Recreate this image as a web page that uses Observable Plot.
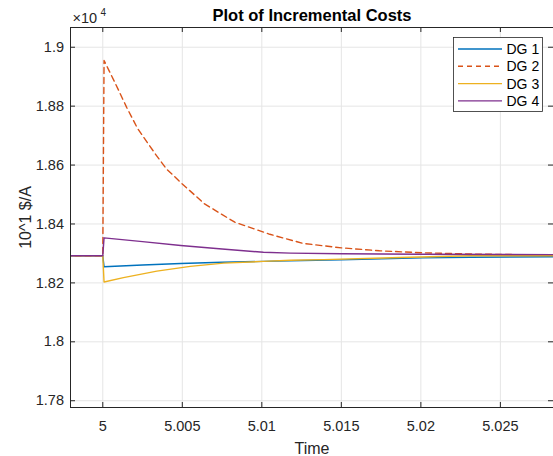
<!DOCTYPE html>
<html><head><meta charset="utf-8">
<script src="https://cdn.jsdelivr.net/npm/d3@7"></script>
<script src="https://cdn.jsdelivr.net/npm/@observablehq/plot@0.6"></script>
<style>body{margin:0;background:#fff}</style>
</head><body><div id="chart"></div>
<script>
const seriesNames = ["DG 1", "DG 2", "DG 3", "DG 4"];
const seriesColors = ["#0072BD", "#D95319", "#EDB120", "#7E2F8E"];

const dg1Time  = [4.997, 5.0, 5.00008, 5.0025, 5.0049, 5.0075, 5.0101, 5.0118, 5.0150, 5.0201, 5.0231, 5.0284];
const dg1Value = [18292, 18292, 18255, 18261, 18266, 18270, 18273, 18275, 18278, 18285, 18287, 18289];

const dg2Time  = [4.997, 5.0, 5.00008, 5.0008, 5.0015, 5.0022, 5.0033, 5.0040, 5.0050, 5.0064, 5.0083, 5.0105, 5.0126, 5.0150, 5.0174, 5.0201, 5.0231, 5.0260, 5.0284];
const dg2Value = [18292, 18292, 18955, 18876, 18796, 18723, 18638, 18587, 18536, 18468, 18406, 18365, 18334, 18319, 18309, 18302, 18298, 18296, 18295];

const dg3Time  = [4.997, 5.0, 5.00008, 5.0013, 5.0034, 5.0055, 5.0076, 5.0101, 5.0118, 5.0139, 5.0187, 5.0231, 5.0284];
const dg3Value = [18292, 18292, 18203, 18218, 18240, 18256, 18267, 18273, 18277, 18279, 18286, 18292, 18292];

const dg4Time  = [4.997, 5.0, 5.00008, 5.0025, 5.0049, 5.0075, 5.0101, 5.0118, 5.0150, 5.0200, 5.0284];
const dg4Value = [18292, 18292, 18353, 18340, 18327, 18315, 18304, 18301, 18299, 18297, 18296];

const xTicks = [5, 5.005, 5.01, 5.015, 5.02, 5.025];
const xTickLabels = ["5", "5.005", "5.01", "5.015", "5.02", "5.025"];
const yTicks = [17800, 18000, 18200, 18400, 18600, 18800, 19000];
const yTickLabels = ["1.78", "1.8", "1.82", "1.84", "1.86", "1.88", "1.9"];

const titleText = "Plot of Incremental Costs";
const xLabel = "Time";
const yLabel = "10^1 $/A";

const seriesTimes = [dg1Time, dg2Time, dg3Time, dg4Time];
const seriesValues = [dg1Value, dg2Value, dg3Value, dg4Value];
const seriesData = seriesNames.map((name, k) =>
  seriesTimes[k].map((t, i) => ({series: name, t, v: seriesValues[k][i]})));

const W = 553, H = 456, mt = 27, mb = 49, ml = 70, mr = 0;
const ph = H - mt - mb, pw = W - ml - mr;
const font = "'Liberation Sans', Arial, Helvetica, sans-serif";
const ink = "#262626";
const tickLen = 5;

const lineMarks = seriesData.map((d, k) => Plot.line(d, {
  x: "t", y: "v", stroke: seriesColors[k], strokeWidth: 1.4,
  strokeDasharray: k === 1 ? "6,4" : null, clip: true
}));

const chart = Plot.plot({
  width: W, height: H,
  marginTop: mt, marginBottom: mb, marginLeft: ml, marginRight: mr,
  style: {fontFamily: font, background: "#fff", color: ink, fontSize: "14.5px", overflow: "visible"},
  x: {domain: [4.99797, 5.02834]},
  y: {domain: [17777, 19067]},
  marks: [
    Plot.gridX(xTicks, {stroke: "#e5e5e5", strokeOpacity: 1}),
    Plot.gridY(yTicks, {stroke: "#e5e5e5", strokeOpacity: 1}),
    ...lineMarks,
    Plot.tickX(xTicks, {x: d => d, insetTop: ph - tickLen, stroke: ink}),
    Plot.tickX(xTicks, {x: d => d, insetBottom: ph - tickLen, stroke: ink}),
    Plot.tickY(yTicks, {y: d => d, insetRight: pw - tickLen, stroke: ink}),
    Plot.tickY(yTicks, {y: d => d, insetLeft: pw - tickLen, stroke: ink}),
    Plot.frame({stroke: ink, strokeWidth: 1}),
    Plot.axisX(xTicks, {tickFormat: d => xTickLabels[xTicks.indexOf(d)], tickSize: 0, tickPadding: 13.5, label: null, fontSize: 14.5, fill: ink}),
    Plot.axisY(yTicks, {tickFormat: d => yTickLabels[yTicks.indexOf(d)], tickSize: 0, tickPadding: 6.5, label: null, fontSize: 14.5, fill: ink}),
    Plot.text([titleText], {frameAnchor: "top", textAnchor: "middle", lineAnchor: "bottom", dy: -7, fontSize: 16.5, fontWeight: "bold", fill: "#000"}),
    Plot.text([xLabel], {frameAnchor: "bottom", textAnchor: "middle", lineAnchor: "top", dy: 35.5, fontSize: 16, fill: ink}),
    Plot.text([yLabel], {frameAnchor: "left", textAnchor: "middle", lineAnchor: "middle", rotate: -90, dx: -45, fontSize: 16, fill: ink}),
    Plot.text(["×10"], {frameAnchor: "top-left", textAnchor: "start", lineAnchor: "bottom", dx: 2, dy: -5, fontSize: 14.5, fill: ink}),
    Plot.text(["4"], {frameAnchor: "top-left", textAnchor: "start", lineAnchor: "bottom", dx: 30, dy: -12, fontSize: 10, fill: ink})
  ]
});

// Legend (MATLAB-style box, top-right)
const svg = d3.select(chart);
const lg = svg.append("g").attr("font-family", font).attr("font-size", 14).attr("text-anchor", "start");
const lx0 = 453.5, ly0 = 37.5, lw = 89, lh = 74;
lg.append("rect").attr("x", lx0).attr("y", ly0).attr("width", lw).attr("height", lh)
  .attr("fill", "#fff").attr("stroke", ink).attr("stroke-width", 0.8);
seriesNames.forEach((name, k) => {
  const cy = 49 + k * 17.3;
  lg.append("line").attr("x1", 458).attr("x2", 502).attr("y1", cy).attr("y2", cy)
    .attr("stroke", seriesColors[k]).attr("stroke-width", 1.4)
    .attr("stroke-dasharray", k === 1 ? "5,4" : null);
  lg.append("text").attr("x", 506.5).attr("y", cy).attr("dy", "0.35em")
    .attr("text-anchor", "start").attr("fill", "#000").text(name);
});

document.getElementById("chart").appendChild(chart);
</script>
</body></html>
